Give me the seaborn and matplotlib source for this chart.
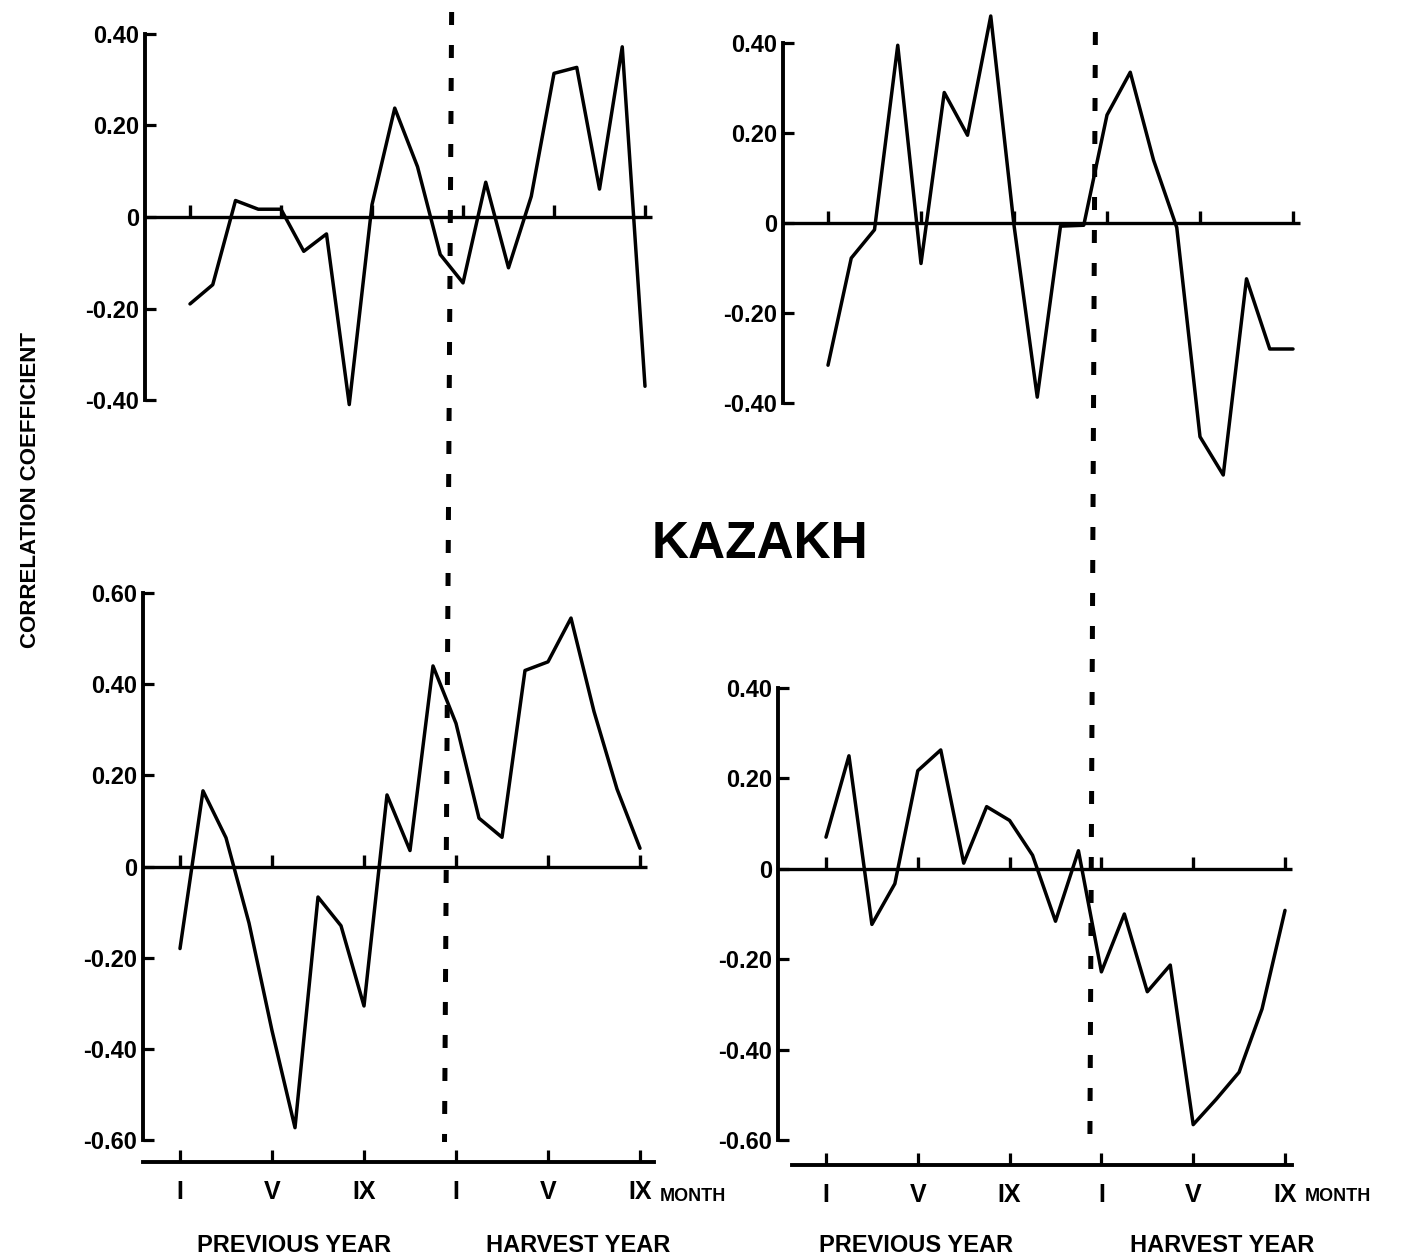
import numpy as np
import pandas as pd
import matplotlib
matplotlib.use("Agg")
import matplotlib.pyplot as plt
import seaborn as sns
from matplotlib.lines import Line2D

# ---------------- data ----------------
months = list(range(21))  # I..XII previous year, I..IX harvest year
tick_months = [0, 4, 8, 12, 16, 20]
tick_labels = ["I", "V", "IX", "I", "V", "IX"]
year_boundary = 11.5

r_top_left = [-0.19, -0.148, 0.036, 0.017, 0.017, -0.075, -0.037, -0.41, 0.027, 0.238,
              0.11, -0.082, -0.144, 0.076, -0.111, 0.045, 0.314, 0.327, 0.061, 0.372, -0.37]
r_top_right = [-0.316, -0.078, -0.015, 0.395, -0.09, 0.29, 0.195, 0.46, -0.005, -0.387,
               -0.007, -0.005, 0.24, 0.335, 0.14, -0.01, -0.475, -0.56, -0.124, -0.28, -0.28]
r_bottom_left = [-0.18, 0.166, 0.063, -0.124, -0.36, -0.573, -0.067, -0.13, -0.306, 0.157,
                 0.035, 0.44, 0.314, 0.106, 0.064, 0.43, 0.449, 0.545, 0.34, 0.17, 0.04]
r_bottom_right = [0.07, 0.25, -0.123, -0.033, 0.217, 0.263, 0.0125, 0.1375, 0.107, 0.03,
                  -0.116, 0.04, -0.228, -0.1, -0.272, -0.213, -0.566, -0.51, -0.45, -0.31, -0.092]

yticks_small = [-0.4, -0.2, 0.0, 0.2, 0.4]
yticks_large = [-0.6, -0.4, -0.2, 0.0, 0.2, 0.4, 0.6]
yticks_br = [-0.6, -0.4, -0.2, 0.0, 0.2, 0.4]

# ---------------- style ----------------
sns.set_theme(style="white")
plt.rcParams["font.family"] = ["Liberation Sans", "DejaVu Sans"]
plt.rcParams["axes.linewidth"] = 2.5
plt.rcParams["text.color"] = "black"
plt.rcParams["axes.labelcolor"] = "black"
plt.rcParams["xtick.color"] = "black"
plt.rcParams["ytick.color"] = "black"

W, H = 1405, 1259
fig = plt.figure(figsize=(W / 100, H / 100), dpi=100)
fig.patch.set_facecolor("white")

NARROW = ["Liberation Sans Narrow", "Liberation Sans", "DejaVu Sans"]

def fmt(v):
    if abs(v) < 1e-9:
        return "0"
    return f"{v:.2f}"

def make_panel(values, yticks, spine_px, m0_px, m20_px, yhi_px, ylo_px,
               right_px, top_val, bot_val, bottom_axis=False, outward=0, bottom_bounds=None):
    vhi, vlo = yticks[-1], yticks[0]
    sx = (m20_px - m0_px) / 20.0
    x_left = (spine_px - m0_px) / sx
    x_right = (right_px - m0_px) / sx
    sy = (ylo_px - yhi_px) / (vhi - vlo)
    top_px = yhi_px - (top_val - vhi) * sy
    bot_px = yhi_px + (vhi - bot_val) * sy
    ax = fig.add_axes([spine_px / W, 1 - bot_px / H, (right_px - spine_px) / W, (bot_px - top_px) / H])
    ax.set_facecolor("none")
    df = pd.DataFrame({"month": months, "r": values})
    sns.lineplot(data=df, x="month", y="r", ax=ax, color="black", linewidth=2.5,
                 errorbar=None, clip_on=False)
    ax.set_xlim(x_left, x_right)
    ax.set_ylim(bot_val, top_val)
    ax.set_xlabel("")
    ax.set_ylabel("")
    # zero line with month ticks
    ax.hlines(0, x_left, 20.3, color="black", linewidth=2.4, clip_on=False)
    ax.vlines(tick_months, 0, 12.0 / sy, color="black", linewidth=2.4, clip_on=False)
    # y axis
    for s in ["top", "right"]:
        ax.spines[s].set_visible(False)
    ax.spines["left"].set_bounds(vlo, vhi)
    ax.spines["left"].set_linewidth(2.8)
    ax.spines["left"].set_color("black")
    ax.set_yticks(yticks)
    ax.set_yticklabels([fmt(v) for v in yticks])
    ax.tick_params(axis="y", direction="in", length=8, width=2.3, colors="black",
                   labelsize=17, pad=4, left=True)
    for lbl in ax.get_yticklabels():
        lbl.set_fontweight("bold")
    if bottom_axis:
        sp = ax.spines["bottom"]
        sp.set_visible(True)
        sp.set_position(("outward", outward))
        sp.set_bounds(*bottom_bounds)
        sp.set_linewidth(2.8)
        sp.set_color("black")
        ax.set_xticks(tick_months)
        ax.set_xticklabels(tick_labels)
        ax.tick_params(axis="x", direction="in", length=9, width=2.3, colors="black",
                       labelsize=18, pad=13, bottom=True)
        for lbl in ax.get_xticklabels():
            lbl.set_family(NARROW)
            lbl.set_fontweight("bold")
        ax.annotate("MONTH", xy=(20, bot_val), xycoords="data", xytext=(14, -41),
                    textcoords="offset points", ha="left", va="center",
                    fontsize=13, fontweight="bold", family=NARROW,
                    annotation_clip=False)
    else:
        ax.spines["bottom"].set_visible(False)
        ax.set_xticks([])
    return ax

ax_tl = make_panel(r_top_left, yticks_small, 145, 190, 645, 34, 400, 660, 0.42, -0.45)
ax_tr = make_panel(r_top_right, yticks_small, 783, 828, 1293, 43, 403, 1300, 0.48, -0.6)
ax_bl = make_panel(r_bottom_left, yticks_large, 143, 180, 640, 593, 1140, 660, 0.62, -0.6,
                   bottom_axis=True, outward=16, bottom_bounds=(-1.6, 20.6))
ax_br = make_panel(r_bottom_right, yticks_br, 778, 826, 1285, 688, 1140, 1300, 0.42, -0.6,
                   bottom_axis=True, outward=18, bottom_bounds=(-1.5, 20.3))

# dashed year boundary lines spanning both rows
def boundary_line(ax_top, ax_bot, y_top_px, y_bot_px):
    xt = ax_top.transData.transform((year_boundary, 0))[0] / W
    xb = ax_bot.transData.transform((year_boundary, 0))[0] / W
    ln = Line2D([xt, xb], [1 - y_top_px / H, 1 - y_bot_px / H], transform=fig.transFigure,
                color="black", linewidth=3.6, linestyle=(0, (2.6, 4.0)),
                solid_capstyle="butt", dash_capstyle="butt")
    fig.add_artist(ln)

fig.canvas.draw()
boundary_line(ax_tl, ax_bl, 12, 1142)
boundary_line(ax_tr, ax_br, 32, 1135)

# titles and labels
fig.text(760 / W, 1 - 545 / H, "KAZAKH", ha="center", va="center",
         fontsize=37, fontweight="bold", color="black")
fig.text(31 / W, 1 - 490 / H, "CORRELATION COEFFICIENT", ha="center", va="center",
         rotation=90, fontsize=16, fontweight="bold", color="black")
for cx, txt in [(294, "PREVIOUS YEAR"), (578, "HARVEST YEAR"),
                (916, "PREVIOUS YEAR"), (1222, "HARVEST YEAR")]:
    fig.text(cx / W, 1 - 1245 / H, txt, ha="center", va="center",
             fontsize=17, fontweight="bold", color="black")

fig.savefig("out.png", dpi=100, facecolor="white")
